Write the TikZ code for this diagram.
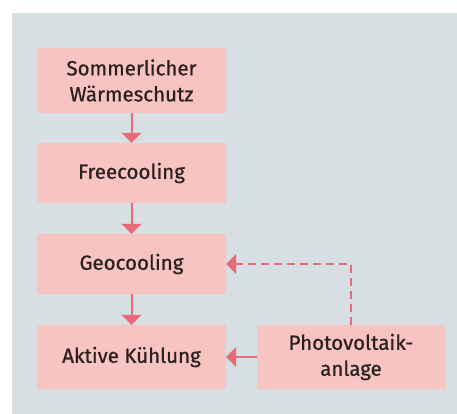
\documentclass[tikz,border=0pt]{standalone}
\usepackage{fontspec}
\setmainfont{Fira Sans}[BoldFont=Fira Sans, BoldFeatures={FakeBold=0.8}]
\usetikzlibrary{arrows.meta}
\definecolor{panel}{HTML}{D8DFE2}
\definecolor{boxfill}{HTML}{F7C4C2}
\definecolor{flow}{HTML}{E8697A}
\definecolor{ink}{HTML}{2B2220}
\tikzset{
  stage/.style={draw=none, fill=boxfill, minimum width=189pt, inner sep=0pt,
    text=ink, align=center, font=\fontsize{20.5}{26}\selectfont\bfseries},
  flowarrow/.style={draw=flow, line width=2pt,
    -{Triangle[width=20pt,length=10pt]}},
}
\begin{document}
\begin{tikzpicture}[x=1pt,y=-1pt]
  \useasboundingbox (0,0) rectangle (457,414);
  \fill[panel] (12,13) rectangle (457,414);
  \node[stage, minimum height=65pt] (s1) at (131.5,80.5) {Sommerlicher\\Wärmeschutz};
  \node[stage, minimum height=60pt] (s2) at (131.5,173) {Freecooling};
  \node[stage, minimum height=60pt] (s3) at (131.5,264) {Geocooling};
  \node[stage, minimum height=64pt] (s4) at (131.5,357) {Aktive Kühlung};
  \node[stage, minimum width=188pt, minimum height=64pt] (pv) at (351,357) {Photovoltaik-\\anlage};
  \draw[flowarrow] (s1) -- (s2);
  \draw[flowarrow] (s2) -- (s3);
  \draw[flowarrow] (s3) -- (s4);
  \draw[flowarrow] (pv) -- (s4);
  \draw[flowarrow, dash pattern=on 8pt off 5pt] (pv.north) |- (s3.east);
\end{tikzpicture}
\end{document}
